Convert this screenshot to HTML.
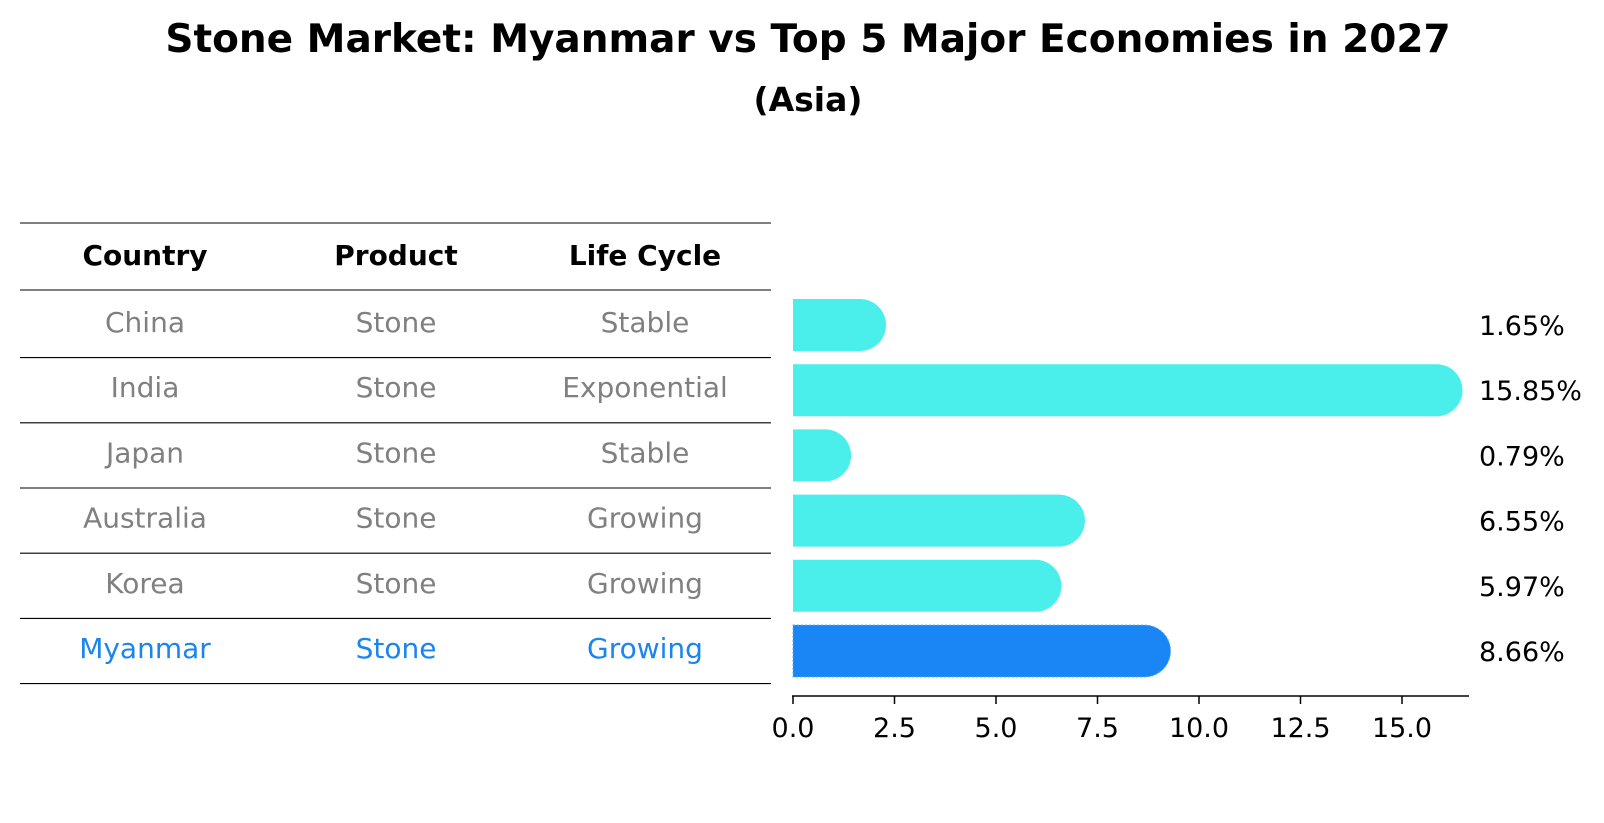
<!DOCTYPE html>
<html><head><meta charset="utf-8"><style>
body{margin:0;background:#fff;}
svg{display:block;font-family:"DejaVu Sans","Liberation Sans",sans-serif;}
</style></head><body>
<svg id="chart" width="1604" height="823" viewBox="0 0 1604 823">
<text x="808" y="52" text-anchor="middle" font-size="39" font-weight="bold">Stone Market: Myanmar vs Top 5 Major Economies in 2027</text>
<text x="808" y="111" text-anchor="middle" font-size="33" font-weight="bold">(Asia)</text>
<g id="table"></g>
<g id="bars"></g>
</svg>
<script>
const countries=["China","India","Japan","Australia","Korea","Myanmar"];
const products=["Stone","Stone","Stone","Stone","Stone","Stone"];
const lifeCycles=["Stable","Exponential","Stable","Growing","Growing","Growing"];
const values=[1.65,15.85,0.79,6.55,5.97,8.66];
const tickValues=[0,2.5,5,7.5,10,12.5,15];
const tickLabels=["0.0","2.5","5.0","7.5","10.0","12.5","15.0"];

const NS="http://www.w3.org/2000/svg";
function mk(tag,attrs,parent,text){const e=document.createElementNS(NS,tag);for(const k in attrs)e.setAttribute(k,attrs[k]);if(text!==undefined)e.textContent=text;parent.appendChild(e);return e;}
const xs=v=>793+40.6*v;
const rowY=i=>325+65.2*i;
const tbl=document.getElementById('table');
const lineYs=[223,290];
for(let i=0;i<countries.length;i++)lineYs.push(rowY(i)+32.6);
lineYs.forEach((y,i)=>{const l=mk('line',{x1:20,x2:771,y1:y,y2:y,stroke:'#000','stroke-width':1.1},tbl);

});
const colX=[145,396,645];
["Country","Product","Life Cycle"].forEach((h,j)=>{const t=mk('text',{x:colX[j],y:265,'text-anchor':'middle','font-size':28,'font-weight':'bold'},tbl,h);

});
countries.forEach((c,i)=>{const col=c==="Myanmar"?"#1a85f0":"#808080";
[c,products[i],lifeCycles[i]].forEach((s,j)=>{const t=mk('text',{x:colX[j],y:rowY(i)+7,'text-anchor':'middle','font-size':28,fill:col},tbl,s);

});});
const g=document.getElementById('bars');
const h=52,r=26;
values.forEach((v,i)=>{const cy=rowY(i);const x0=xs(0),x1=xs(v);const my=countries[i]==="Myanmar";
const col=my?"#1a85f5":"#4aeeea";
const d=`M${x0},${cy-h/2} L${x1},${cy-h/2} A${r},${r} 0 0 1 ${x1},${cy+h/2} L${x0},${cy+h/2} Z`;
const p=mk('path',{d:d,fill:col},g);
if(my){p.setAttribute('stroke','#5fb0ff');p.setAttribute('stroke-dasharray','2,2');p.setAttribute('stroke-width','1');}


const t=mk('text',{x:1479,y:cy+10,'font-size':27},g,v.toFixed(2)+'%');

});
const ax=mk('line',{x1:792,x2:1469,y1:696,y2:696,stroke:'#000','stroke-width':1.5},g);


tickValues.forEach((v,i)=>{const x=xs(v);
const tk=mk('line',{x1:x,x2:x,y1:696,y2:704,stroke:'#000','stroke-width':1.5},g);


const t=mk('text',{x:x,y:737,'text-anchor':'middle','font-size':27},g,tickLabels[i]);

});
</script>
</body></html>
